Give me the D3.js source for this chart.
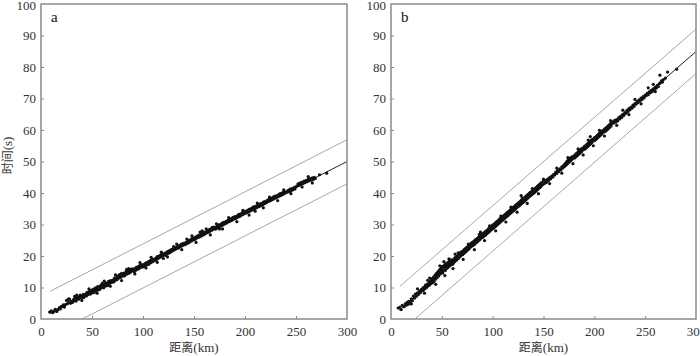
<!DOCTYPE html>
<html><head><meta charset="utf-8">
<script src="https://cdn.jsdelivr.net/npm/d3@7/dist/d3.min.js"></script>
<style>html,body{margin:0;padding:0;background:#fff;}svg{display:block;}</style>
</head><body>
<svg id="chart" width="700" height="356"></svg>
<script>
// ---- data ----
const xTicks = [0, 50, 100, 150, 200, 250, 300];
const yTicks = [0, 10, 20, 30, 40, 50, 60, 70, 80, 90, 100];
const panelLabels = ["a", "b"];
const xTitle = "距离(km)";
const yTitle = "时间(s)";

const pointsA = [
[8.5,2.2],[10,2.6],[11.5,2.0],[13,2.5],[14,3.1],[15.5,2.4],[16.5,3.0],[18,3.6],[19,3.2],[20,4.0],
[21,3.9],[22,4.5],[23,3.8],[24,4.6],[25,5.9],[26,4.9],[26.5,6.0],[27.5,5.2],[28,6.3],[29,5.0],[30,5.6],
[31,5.3],[32,6.2],[33,5.8],[34,6.6],[34.5,5.7],[35.5,6.5],[36,7.1],[37,6.3],[38,7.0],[38.5,7.6],[39.5,6.8],[40,7.3],
[41,7.0],[41.5,7.8],[42,6.8],[43,7.5],[44,8.0],[44.5,7.3],[45,8.4],[46,7.7],[46.5,8.6],[47,8.1],[48,8.9],[48.5,7.9],[49,8.5],[50,9.2],[50,8.3],
[51,8.7],[51.5,9.5],[52,8.4],[53,9.3],[53.5,9.9],[54,8.9],[55,9.6],[55.5,10.3],[56,9.2],[57,10.0],[57.5,9.4],[58,10.5],[59,9.9],[59.5,10.8],[60,10.1],
[61,10.5],[61.5,9.9],[62,11.0],[63,10.4],[63.5,11.4],[64,10.8],[65,11.3],[65.5,10.6],[66,11.9],[67,11.2],[67.5,12.1],[68,11.5],[69,12.2],[69.5,11.6],[70,12.0],
[71,12.4],[71.5,11.8],[72,13.0],[73,12.3],[74,13.1],[74.5,12.5],[75,13.6],[76,12.9],[76.5,13.4],[77,14.1],[78,13.2],[78.5,13.9],[79,14.5],[80,13.6],[80,14.2],
[81,13.9],[81.5,14.6],[82,13.7],[83,14.4],[83.5,15.1],[84,14.2],[85,14.7],[85.5,15.4],[86,14.5],[87,15.3],[87.5,14.8],[88,15.8],[89,15.2],[89.5,15.9],[90,15.4],
[91,15.6],[91.5,15.0],[92,16.0],[93,15.5],[93.5,16.4],[94,15.8],[95,16.5],[95.5,15.9],[96,16.8],[97,16.2],[97.5,17.1],[98,16.6],[99,17.3],[99.5,16.5],[100,17.0],
[101,17.2],[101.5,16.6],[102,17.6],[103,17.1],[103.5,17.9],[104,17.4],[105,18.1],[105.5,17.3],[106,18.3],[107,17.8],[107.5,18.6],[108,18.0],[109,18.9],[109.5,18.2],[110,18.7],
[111,18.5],[111.5,19.1],[112,18.8],[113,19.4],[113.5,18.9],[114,19.8],[115,19.3],[115.5,20.0],[116,19.5],[117,20.2],[117.5,19.7],[118,20.5],[119,20.0],[119.5,20.7],[120,20.3],
[121,20.4],[121.5,20.9],[122,20.2],[123,21.0],[123.5,20.6],[124,21.4],[125,20.9],[125.5,21.6],[126,21.1],[127,21.8],[127.5,21.3],[128,22.1],[129,21.7],[129.5,22.3],[130,21.9],
[131,22.0],[131.5,22.6],[132,22.2],[133,22.9],[133.5,22.4],[134,23.1],[135,22.6],[135.5,23.3],[136,22.9],[137,23.6],[137.5,23.1],[138,23.8],[139,23.4],[139.5,24.0],[140,23.6],
[141,23.6],[141.5,24.2],[142,23.8],[143,24.5],[143.5,24.0],[144,24.7],[145,24.3],[145.5,25.0],[146,24.5],[147,25.2],[147.5,24.8],[148,25.5],[149,25.1],[149.5,25.7],[150,25.2],
[151,25.3],[151.5,26.0],[152,25.6],[153,26.2],[153.5,25.8],[154,26.5],[155,26.0],[155.5,26.7],[156,26.2],[157,26.9],[157.5,26.4],[158,27.1],[159,26.7],[159.5,27.4],[160,26.9],
[161,27.1],[161.5,27.7],[162,27.3],[163,28.0],[163.5,27.5],[164,28.2],[165,27.7],[165.5,28.5],[166,28.0],[167,28.7],[167.5,28.2],[168,29.1],[169,28.6],[169.5,29.2],[170,28.7],
[171,28.5],[171.5,29.2],[172,28.8],[173,29.5],[173.5,29.0],[174,29.8],[175,29.2],[175.5,30.0],[176,29.5],[177,30.2],[177.5,29.7],[178,30.5],[179,30.0],[179.5,30.7],[180,30.2],
[181,30.4],[181.5,31.0],[182,30.5],[183,31.2],[183.5,30.8],[184,31.5],[185,31.0],[185.5,31.7],[186,31.2],[187,31.9],[187.5,31.4],[188,32.2],[189,31.7],[189.5,32.4],[190,31.9],
[191,32.0],[191.5,32.6],[192,32.2],[193,32.9],[193.5,32.4],[194,33.2],[195,32.6],[195.5,33.3],[196,32.9],[197,33.6],[197.5,33.1],[198,33.9],[199,33.4],[199.5,34.1],[200,33.6],
[201,33.7],[201.5,34.3],[202,33.8],[203,34.5],[203.5,34.0],[204,34.8],[205,34.3],[205.5,35.0],[206,34.5],[207,35.2],[207.5,34.7],[208,35.5],[209,35.0],[209.5,35.7],[210,35.2],
[211,35.3],[211.5,35.9],[212,35.5],[213,36.1],[213.5,35.7],[214,36.4],[215,35.9],[215.5,36.6],[216,36.1],[217,36.8],[217.5,36.3],[218,37.1],[219,36.6],[219.5,37.3],[220,36.8],
[221,37.0],[221.5,37.6],[222,37.2],[223,37.9],[223.5,37.4],[224,38.1],[225,37.6],[225.5,38.3],[226,37.8],[227,38.5],[227.5,38.0],[228,38.8],[229,38.3],[229.5,39.0],[230,38.5],
[231,38.7],[231.5,39.2],[232,38.8],[233,39.4],[233.5,39.0],[234,39.7],[235,39.3],[235.5,39.9],[236,39.4],[237,40.1],[237.5,39.6],[238,40.3],[239,39.9],[240,40.4],
[241,40.2],[242,40.8],[243,40.4],[244,41.2],[245,40.7],[246,41.4],[247,41.0],[248,41.7],[249,41.3],[250,42.0],
[251,42.2],[252,42.9],[253,42.4],[254,43.2],[255,42.7],[256,43.5],[257,43.0],[258,43.8],[259,43.3],[260,44.0],
[261,43.6],[262,44.3],[263,43.9],[264,44.6],[265,44.1],[266,44.8],[267,44.3],[268,45.0],[269,44.6],[273,45.8],[280,46.3],
[27,6.4],[35,7.6],[60,11.3],[86,16.0],[120,19.2],[130,23.0],[148,26.4],[158,28.0],[162,28.6],[175,28.6],[210,34.2],
[33,7.2],[40,5.9],[47,9.6],[55,8.2],[62,12.0],[68,10.4],[73,14.0],[79,12.2],[84,15.8],[92,14.3],[97,17.9],[103,16.2],
[108,19.6],[114,18.0],[118,21.2],[124,19.7],[133,23.8],[138,22.0],[143,25.4],[152,24.3],[156,27.6],[166,26.7],[172,30.2],
[178,28.6],[184,32.2],[192,30.9],[198,34.5],[204,33.0],[212,36.8],[218,35.3],[224,38.7],[232,37.6],[238,41.0],[245,39.8],
[256,41.9],[262,45.2],[266,43.2]
];

const pointsB = [
[7,3.5],[8.5,3.7],[10,3.0],[11,4.3],[13,3.9],[14,4.8],[15,4.4],[16,5.3],[16.5,4.6],[17.5,5.6],[18,4.9],[19,5.5],[20,6.4],[21,5.8],[22,7.3],[23,6.6],[24,7.9],[25,7.2],[26,8.3],[27,7.8],[28,8.9],[29,8.4],[30,9.4],
[31,9.0],[31.5,9.9],[32,9.3],[33,10.2],[33.5,9.6],[34,10.8],[35,10.0],[35.5,11.0],[36,10.4],[37,11.3],[37.5,10.7],[38,11.8],[39,11.2],[39.5,12.3],[40,11.6],
[40.5,12.8],[41,11.5],[41.5,12.5],[42,13.4],[42.5,12.0],[43,13.0],[43.5,14.0],[44,12.7],[44.5,13.6],[45,14.6],[45.5,13.2],[46,14.2],[46.5,15.1],[47,13.7],[47.5,14.8],[48,15.8],[48.5,14.3],[49,15.3],[49.5,16.2],[50,14.8],[50,16.6],
[50.5,15.5],[51,14.6],[51.5,16.8],[52,15.6],[52.5,16.4],[53,17.3],[53.5,15.4],[54,16.7],[54.5,17.6],[55,16.1],[55.5,17.1],[56,18.0],[56.5,16.5],[57,17.4],[57.5,18.4],[58,16.9],[58.5,17.9],[59,18.8],[59.5,17.4],[60,18.2],
[60.5,17.3],[61,18.7],[61.5,17.8],[62,19.1],[62.5,18.2],[63,19.4],[63.5,18.5],[64,19.8],[64.5,18.7],[65,19.9],[65.5,19.1],[66,20.3],[66.5,19.3],[67,20.6],[67.5,19.8],[68,21.0],[68.5,20.0],[69,21.2],[69.5,20.5],[70,21.4],
[70.5,20.4],[71,21.6],[71.5,20.8],[72,22.0],[72.5,21.0],[73,22.3],[73.5,21.4],[74,22.6],[74.5,21.6],[75,22.8],[75.5,22.0],[76,23.1],[76.5,22.2],[77,23.5],[77.5,22.6],[78,23.8],[78.5,22.9],[79,24.0],[79.5,23.2],[80,24.3],
[80.5,23.3],[81,24.5],[81.5,23.6],[82,24.8],[82.5,23.8],[83,25.1],[83.5,24.2],[84,25.3],[84.5,24.4],[85,25.6],[85.5,24.8],[86,25.9],[86.5,25.0],[87,26.2],[87.5,25.3],[88,26.6],[88.5,25.7],[89,26.8],[89.5,25.9],[90,27.0],
[90.5,26.0],[91,27.1],[91.5,26.3],[92,27.5],[92.5,26.6],[93,27.8],[93.5,26.8],[94,28.0],[94.5,27.2],[95,28.3],[95.5,27.4],[96,28.7],[96.5,27.7],[97,28.9],[97.5,28.0],[98,29.2],[98.5,28.3],[99,29.5],[99.5,28.6],[100,29.8],
[100.5,28.8],[101,30.0],[101.5,29.1],[102,30.3],[102.5,29.3],[103,30.6],[103.5,29.7],[104,30.9],[104.5,29.9],[105,31.1],[105.5,30.2],[106,31.4],[106.5,30.5],[107,31.8],[107.5,30.8],[108,32.0],[108.5,31.1],[109,32.3],[109.5,31.3],[110,32.6],
[110.5,31.6],[111,32.8],[111.5,31.9],[112,33.1],[112.5,32.2],[113,33.4],[113.5,32.5],[114,33.7],[114.5,32.7],[115,33.9],[115.5,33.0],[116,34.2],[116.5,33.3],[117,34.5],[117.5,33.6],[118,34.8],[118.5,33.9],[119,35.1],[119.5,34.2],[120,35.4],
[120.5,34.4],[121,35.6],[121.5,34.7],[122,35.9],[122.5,35.0],[123,36.2],[123.5,35.3],[124,36.5],[124.5,35.6],[125,36.7],[125.5,35.8],[126,37.0],[126.5,36.1],[127,37.3],[127.5,36.4],[128,37.6],[128.5,36.7],[129,37.9],[129.5,37.0],[130,38.2],
[130.5,37.2],[131,38.4],[131.5,37.5],[132,38.7],[132.5,37.8],[133,39.0],[133.5,38.1],[134,39.3],[134.5,38.4],[135,39.6],[135.5,38.7],[136,39.9],[136.5,39.0],[137,40.2],[137.5,39.2],[138,40.4],[138.5,39.5],[139,40.7],[139.5,39.8],[140,41.0],
[140.5,40.0],[141,41.2],[141.5,40.3],[142,41.5],[142.5,40.6],[143,41.8],[143.5,40.9],[144,42.1],[144.5,41.2],[145,42.4],[145.5,41.5],[146,42.7],[146.5,41.8],[147,43.0],[147.5,42.1],[148,43.3],[149,42.6],[150,43.8],
[151,43.0],[152,43.9],[153,43.4],[154,44.4],[155,44.0],[156,44.9],[157,44.5],[158,45.4],[159,45.0],[160,45.9],
[161,45.7],[162,46.6],[163,46.2],[164,47.2],[165,46.8],[166,47.7],[167,47.3],[168,48.3],[169,47.9],[170,48.8],
[170.5,48.4],[171,49.2],[171.5,48.7],[172,49.6],[172.5,49.0],[173,50.0],[173.5,49.3],[174,50.3],[174.5,49.6],[175,50.6],[175.5,49.9],[176,50.9],[176.5,50.2],[177,51.2],[177.5,50.5],[178,51.5],[179,51.0],[180,51.8],
[180.5,51.1],[181,52.0],[181.5,51.4],[182,52.4],[182.5,51.7],[183,52.7],[183.5,52.0],[184,53.0],[184.5,52.3],[185,53.3],[185.5,52.6],[186,53.6],[186.5,52.9],[187,53.9],[187.5,53.2],[188,54.2],[189,53.7],[190,54.7],
[190.5,53.9],[191,54.9],[191.5,54.2],[192,55.2],[192.5,54.5],[193,55.5],[193.5,54.8],[194,55.8],[194.5,55.1],[195,56.1],[195.5,55.4],[196,56.4],[196.5,55.7],[197,56.7],[197.5,56.0],[198,57.0],[199,56.5],[200,57.5],
[200.5,56.7],[201,57.7],[201.5,57.0],[202,58.0],[202.5,57.3],[203,58.3],[203.5,57.6],[204,58.6],[204.5,57.9],[205,58.9],[205.5,58.2],[206,59.2],[206.5,58.5],[207,59.5],[207.5,58.8],[208,59.8],[209,59.3],[210,60.3],
[210.5,59.5],[211,60.5],[211.5,59.8],[212,60.8],[212.5,60.1],[213,61.1],[213.5,60.4],[214,61.4],[214.5,60.7],[215,61.7],[215.5,61.0],[216,62.0],[216.5,61.3],[217,62.3],[218,62.6],[219,62.2],[220,63.1],
[221,62.5],[222,63.3],[223,62.9],[224,63.9],[225,63.5],[226,64.4],[227,64.0],[228,65.0],[229,64.6],[230,65.5],
[231,65.3],[232,66.2],[233,65.8],[234,66.8],[235,66.4],[236,67.3],[237,66.9],[238,67.9],[239,67.5],[240,68.4],
[241,68.2],[242,69.0],[243,68.7],[244,69.6],[245,69.2],[246,70.1],[247,69.7],[248,70.6],[249,70.2],[250,71.1],
[251,70.9],[252,71.6],[253,71.2],[254,72.1],[255,71.8],[256,72.6],[257,72.2],[258,73.1],[259,72.8],[260,73.6],
[261,73.3],[262,74.2],[263,73.8],[264,74.7],[264.5,77.4],[265,75.0],[266,75.6],[267,75.2],[268,76.0],[270,76.5],[272,78.4],[281,79.3],
[36,12.3],[52,18.2],[63,20.6],[88,27.6],[128,39.2],[196,57.9],[258,74.5],
[20,4.8],[26,9.6],[33,8.2],[38,13.0],[44,11.0],[48,16.9],[53,13.8],[57,19.1],[61,16.0],[66,21.0],[71,18.9],[76,23.8],
[82,22.0],[87,26.9],[92,24.9],[97,29.6],[103,28.0],[108,32.7],[113,30.8],[118,35.5],[124,33.9],[129,38.5],[134,36.7],
[139,41.4],[145,39.8],[150,44.4],[156,43.0],[163,47.9],[168,46.3],[174,51.2],[179,49.3],[184,54.0],[189,52.1],[194,56.8],
[199,55.0],[205,59.9],[210,58.1],[216,63.0],[222,61.5],[228,66.3],[234,64.9],[240,69.7],[246,68.3],[253,73.4],[260,72.2]
];

// fitted line and bounds (endpoints)
const fitA = [[9, 1.8], [300, 50.0]];
const upperA = [[9, 8.8], [300, 56.9]];
const lowerA = [[40.4, 0], [300, 42.9]];
const fitB = [[8, 2.75], [300, 84.9]];
const upperB = [[8.8, 10.4], [300, 92.0]];
const lowerB = [[23.6, 0], [300, 77.9]];

// ---- drawing ----
const svg = d3.select("#chart");
const panels = [
  {x0: 41, x1: 347, pts: pointsA, fit: fitA, up: upperA, lo: lowerA, label: panelLabels[0], yTitle: true},
  {x0: 391, x1: 696, pts: pointsB, fit: fitB, up: upperB, lo: lowerB, label: panelLabels[1], yTitle: false}
];
const yTop = 4, yBot = 319;
const serif = "'Liberation Serif','Times New Roman',serif";
const axisColor = "#8a8a8a";

panels.forEach(p => {
  const x = d3.scaleLinear().domain([0, 300]).range([p.x0, p.x1]);
  const y = d3.scaleLinear().domain([0, 100]).range([yBot, yTop]);
  const g = svg.append("g");

  const line = d3.line().x(d => x(d[0])).y(d => y(d[1]));
  g.append("path").attr("d", line(p.up)).attr("fill", "none").attr("stroke", "#b3a2a2").attr("stroke-width", 1);
  g.append("path").attr("d", line(p.lo)).attr("fill", "none").attr("stroke", "#b3a2a2").attr("stroke-width", 1);
  g.append("path").attr("d", line(p.fit)).attr("fill", "none").attr("stroke", "#222").attr("stroke-width", 1);

  g.append("g").selectAll("circle").data(p.pts).join("circle")
    .attr("cx", d => x(d[0])).attr("cy", d => y(d[1])).attr("r", 1.6).attr("fill", "#111");

  // axes
  const xa = g.append("g").attr("transform", `translate(0,${yBot})`)
    .call(d3.axisBottom(x).tickValues(xTicks).tickSize(-3).tickPadding(8).tickFormat(d3.format("d")));
  const ya = g.append("g").attr("transform", `translate(${p.x0},0)`)
    .call(d3.axisLeft(y).tickValues(yTicks).tickSize(-3).tickPadding(5).tickFormat(d3.format("d")));
  [xa, ya].forEach(a => {
    a.select(".domain").remove();
    a.selectAll(".tick line").attr("stroke", axisColor);
    a.selectAll(".tick text").attr("font-family", serif).attr("font-size", 13).attr("fill", "#333");
  });
  ya.selectAll(".tick").filter(d => d === 0 || d === 100).select("line").remove();
  xa.selectAll(".tick").filter(d => d === 0 || d === 300).select("line").remove();
  ya.selectAll(".tick").filter(d => d === 100).select("text").attr("dy", "0.45em");

  // frame
  g.append("rect").attr("x", p.x0).attr("y", yTop).attr("width", p.x1 - p.x0).attr("height", yBot - yTop)
    .attr("fill", "none").attr("stroke", axisColor).attr("stroke-width", 1.5);

  g.append("text").attr("x", p.x0 + 10).attr("y", yTop + 18).text(p.label)
    .attr("font-family", serif).attr("font-size", 15).attr("fill", "#111");

  const xt = g.append("text").attr("x", (p.x0 + p.x1) / 2).attr("y", 352).attr("text-anchor", "middle")
    .attr("font-size", 13).attr("fill", "#333");
  xt.append("tspan").attr("font-family", "'Noto Sans CJK SC',sans-serif").attr("font-size", 12).text(xTitle.slice(0, 2));
  xt.append("tspan").attr("font-family", serif).text(xTitle.slice(2));

  if (p.yTitle) {
    const yt = g.append("text").attr("transform", `translate(12,${(yTop + yBot) / 2 - 6}) rotate(-90)`)
      .attr("text-anchor", "middle").attr("font-size", 13).attr("fill", "#333");
    yt.append("tspan").attr("font-family", "'Noto Sans CJK SC',sans-serif").attr("font-size", 12).text(yTitle.slice(0, 2));
    yt.append("tspan").attr("font-family", serif).text(yTitle.slice(2));
  }
});
</script>
</body></html>
